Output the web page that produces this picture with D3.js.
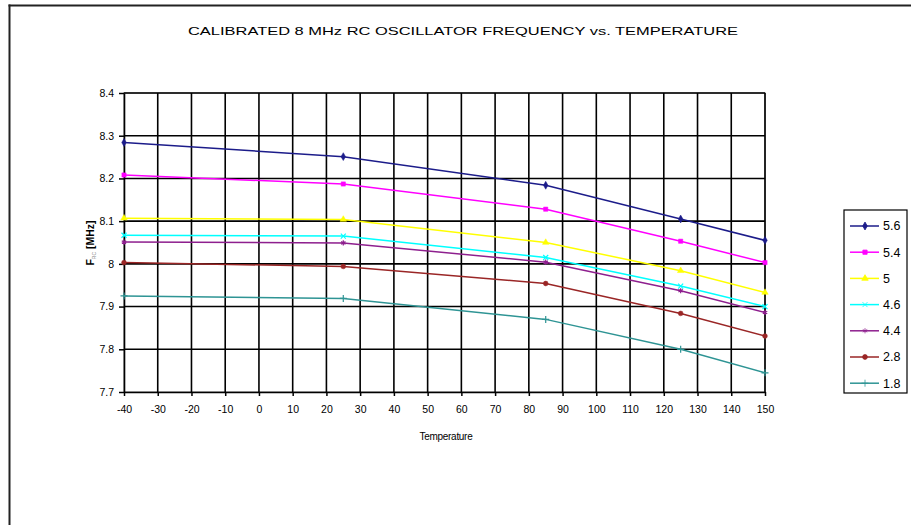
<!DOCTYPE html>
<html lang="en">
<head>
    <meta charset="UTF-8">
    <title>Calibrated 8 MHz RC oscillator frequency vs. temperature</title>
    <style>
        html,body{
            margin:0;
            height: 100%;
            overflow: hidden;
            background: #fff;
        }
        svg{ display: block; }
        text{
            font-family: "Liberation Sans", Arial, sans-serif;
            fill: #000;
        }
    </style>
</head>
<body>
    <svg id="svg"></svg>
    <script src="https://d3js.org/d3.v7.min.js"></script>
    <script>
        // data
        const temps = [-40, 25, 85, 125, 150];
        const seriesNames = ['5.6', '5.4', '5', '4.6', '4.4', '2.8', '1.8'];
        const v56 = [8.284, 8.251, 8.184, 8.105, 8.055];
        const v54 = [8.208, 8.187, 8.128, 8.053, 8.003];
        const v50 = [8.107, 8.104, 8.050, 7.984, 7.933];
        const v46 = [8.067, 8.065, 8.015, 7.948, 7.900];
        const v44 = [8.051, 8.049, 8.004, 7.937, 7.886];
        const v28 = [8.003, 7.994, 7.954, 7.884, 7.831];
        const v18 = [7.925, 7.919, 7.870, 7.800, 7.745];
        const xTicks = d3.range(-40, 151, 10);
        const yTicks = [7.7, 7.8, 7.9, 8, 8.1, 8.2, 8.3, 8.4];

        const colors = ['#1c1c8a', '#ff00ff', '#ffff00', '#00ffff', '#8e1f8e', '#9a2626', '#2e9494'];
        const symbols = ['diamond', 'square', 'triangle', 'cross', 'star', 'circle', 'plus'];
        const allValues = [v56, v54, v50, v46, v44, v28, v18];

        const series = seriesNames.map((name, i) => ({
            name: name,
            color: colors[i],
            symbol: symbols[i],
            values: temps.map((t, j) => ({ t: t, v: allValues[i][j] }))
        }));

        const width = 911, height = 525;
        const svg = d3.select('#svg').attr('width', width).attr('height', height);

        // outer frame, only top and left edges are in the picture
        svg.append('line').attr('x1', 9.5).attr('x2', 9.5).attr('y1', 4.5).attr('y2', height)
            .attr('stroke', '#222').attr('stroke-width', 2);
        svg.append('line').attr('x1', 8.5).attr('x2', width).attr('y1', 5.5).attr('y2', 5.5)
            .attr('stroke', '#222').attr('stroke-width', 2);

        const margin = { top: 93, left: 124, right: 911 - 765, bottom: 525 - 392 };
        const innerWidth = width - margin.left - margin.right;
        const innerHeight = height - margin.top - margin.bottom;

        const xScale = d3.scaleLinear().domain([-40, 150]).range([0, innerWidth]);
        const yScale = d3.scaleLinear().domain([7.7, 8.4]).range([innerHeight, 0]);

        const g = svg.append('g').attr('transform', `translate(${margin.left},${margin.top})`);

        // plot area border
        g.append('rect').attr('width', innerWidth).attr('height', innerHeight)
            .attr('fill', 'none').attr('stroke', '#999').attr('stroke-width', 1.5);

        // grid
        g.append('g').selectAll('line').data(xTicks.slice(1)).join('line')
            .attr('x1', d => xScale(d)).attr('x2', d => xScale(d))
            .attr('y1', 0).attr('y2', innerHeight)
            .attr('stroke', '#000').attr('stroke-width', 1.6);
        g.append('g').selectAll('line').data(yTicks.slice(1)).join('line')
            .attr('x1', 0).attr('x2', innerWidth)
            .attr('y1', d => yScale(d)).attr('y2', d => yScale(d))
            .attr('stroke', '#000').attr('stroke-width', 1.6);

        // axes
        const xAxis = d3.axisBottom(xScale).tickValues(xTicks).tickSize(4).tickSizeOuter(0)
            .tickFormat(d => String(d));
        const gx = g.append('g').attr('transform', `translate(0,${innerHeight})`).call(xAxis);
        gx.select('.domain').attr('stroke', '#000').attr('stroke-width', 1.6);
        gx.selectAll('.tick line').attr('stroke-width', 1.5).attr('y1', 0);
        gx.selectAll('text').attr('font-size', 10.5).attr('dy', '1.2em').attr('y', 8);

        const yAxis = d3.axisLeft(yScale).tickValues(yTicks).tickSize(5).tickSizeOuter(0)
            .tickFormat(d3.format('~g'));
        const gy = g.append('g').call(yAxis);
        gy.select('.domain').attr('stroke', '#000').attr('stroke-width', 1.6);
        gy.selectAll('.tick line').attr('stroke-width', 1.5);
        gy.selectAll('text').attr('font-size', 10.5).attr('x', -10).attr('fill', '#333');

        // lines
        const line = d3.line()
            .x(d => xScale(d.t))
            .y(d => yScale(d.v));

        const sym = {
            diamond: d3.symbolDiamond, square: d3.symbolSquare, triangle: d3.symbolTriangle,
            cross: d3.symbolTimes, star: d3.symbolAsterisk, circle: d3.symbolCircle, plus: d3.symbolPlus
        };

        series.slice().reverse().forEach(s => {
            g.append('path').datum(s.values)
                .attr('d', line)
                .attr('fill', 'none')
                .attr('stroke', s.color)
                .attr('stroke-width', 1.5);
            g.append('g').selectAll('path').data(s.values).join('path')
                .attr('transform', d => `translate(${xScale(d.t)},${yScale(d.v)})`)
                .attr('d', d3.symbol().type(sym[s.symbol]).size(18))
                .attr('fill', s.color)
                .attr('stroke', s.color)
                .attr('stroke-width', (s.symbol === 'cross' || s.symbol === 'star' || s.symbol === 'plus') ? 1.2 : 0.5);
        });

        // title
        svg.append('text')
            .attr('x', 463).attr('y', 35)
            .attr('text-anchor', 'middle')
            .attr('font-size', 11.5)
            .attr('textLength', 550)
            .attr('lengthAdjust', 'spacingAndGlyphs')
            .text('CALIBRATED 8 MHz RC OSCILLATOR FREQUENCY vs. TEMPERATURE');

        // x axis title
        svg.append('text')
            .attr('x', 446).attr('y', 440)
            .attr('text-anchor', 'middle')
            .attr('font-size', 10)
            .attr('letter-spacing', -0.3)
            .text('Temperature');

        // y axis title
        const yt = svg.append('text')
            .attr('transform', 'translate(94,243) rotate(-90)')
            .attr('text-anchor', 'middle')
            .attr('font-size', 10.5)
            .attr('font-weight', 'bold');
        yt.append('tspan').text('F');
        yt.append('tspan').attr('font-size', 5).attr('font-weight', 'normal').attr('dy', 2).attr('fill', '#888').text('RC');
        yt.append('tspan').attr('dy', -2).text(' [MHz]');

        // legend
        const lg = svg.append('g').attr('transform', 'translate(844,210)');
        lg.append('rect').attr('width', 63).attr('height', 183)
            .attr('fill', '#fff').attr('stroke', '#000').attr('stroke-width', 1.2);
        const item = lg.selectAll('g.item').data(series).join('g')
            .attr('class', 'item')
            .attr('transform', (d, i) => `translate(0,${16 + i * 26.2})`);
        item.append('line').attr('x1', 6).attr('x2', 35)
            .attr('stroke', d => d.color).attr('stroke-width', 1.5);
        item.append('path')
            .attr('transform', 'translate(21,0)')
            .attr('d', d => d3.symbol().type(sym[d.symbol]).size(18)())
            .attr('fill', d => d.color).attr('stroke', d => d.color).attr('stroke-width', 0.8);
        item.append('text').attr('x', 39).attr('dy', '0.35em')
            .attr('font-size', 12.5).text(d => d.name);
    </script>
</body>
</html>
